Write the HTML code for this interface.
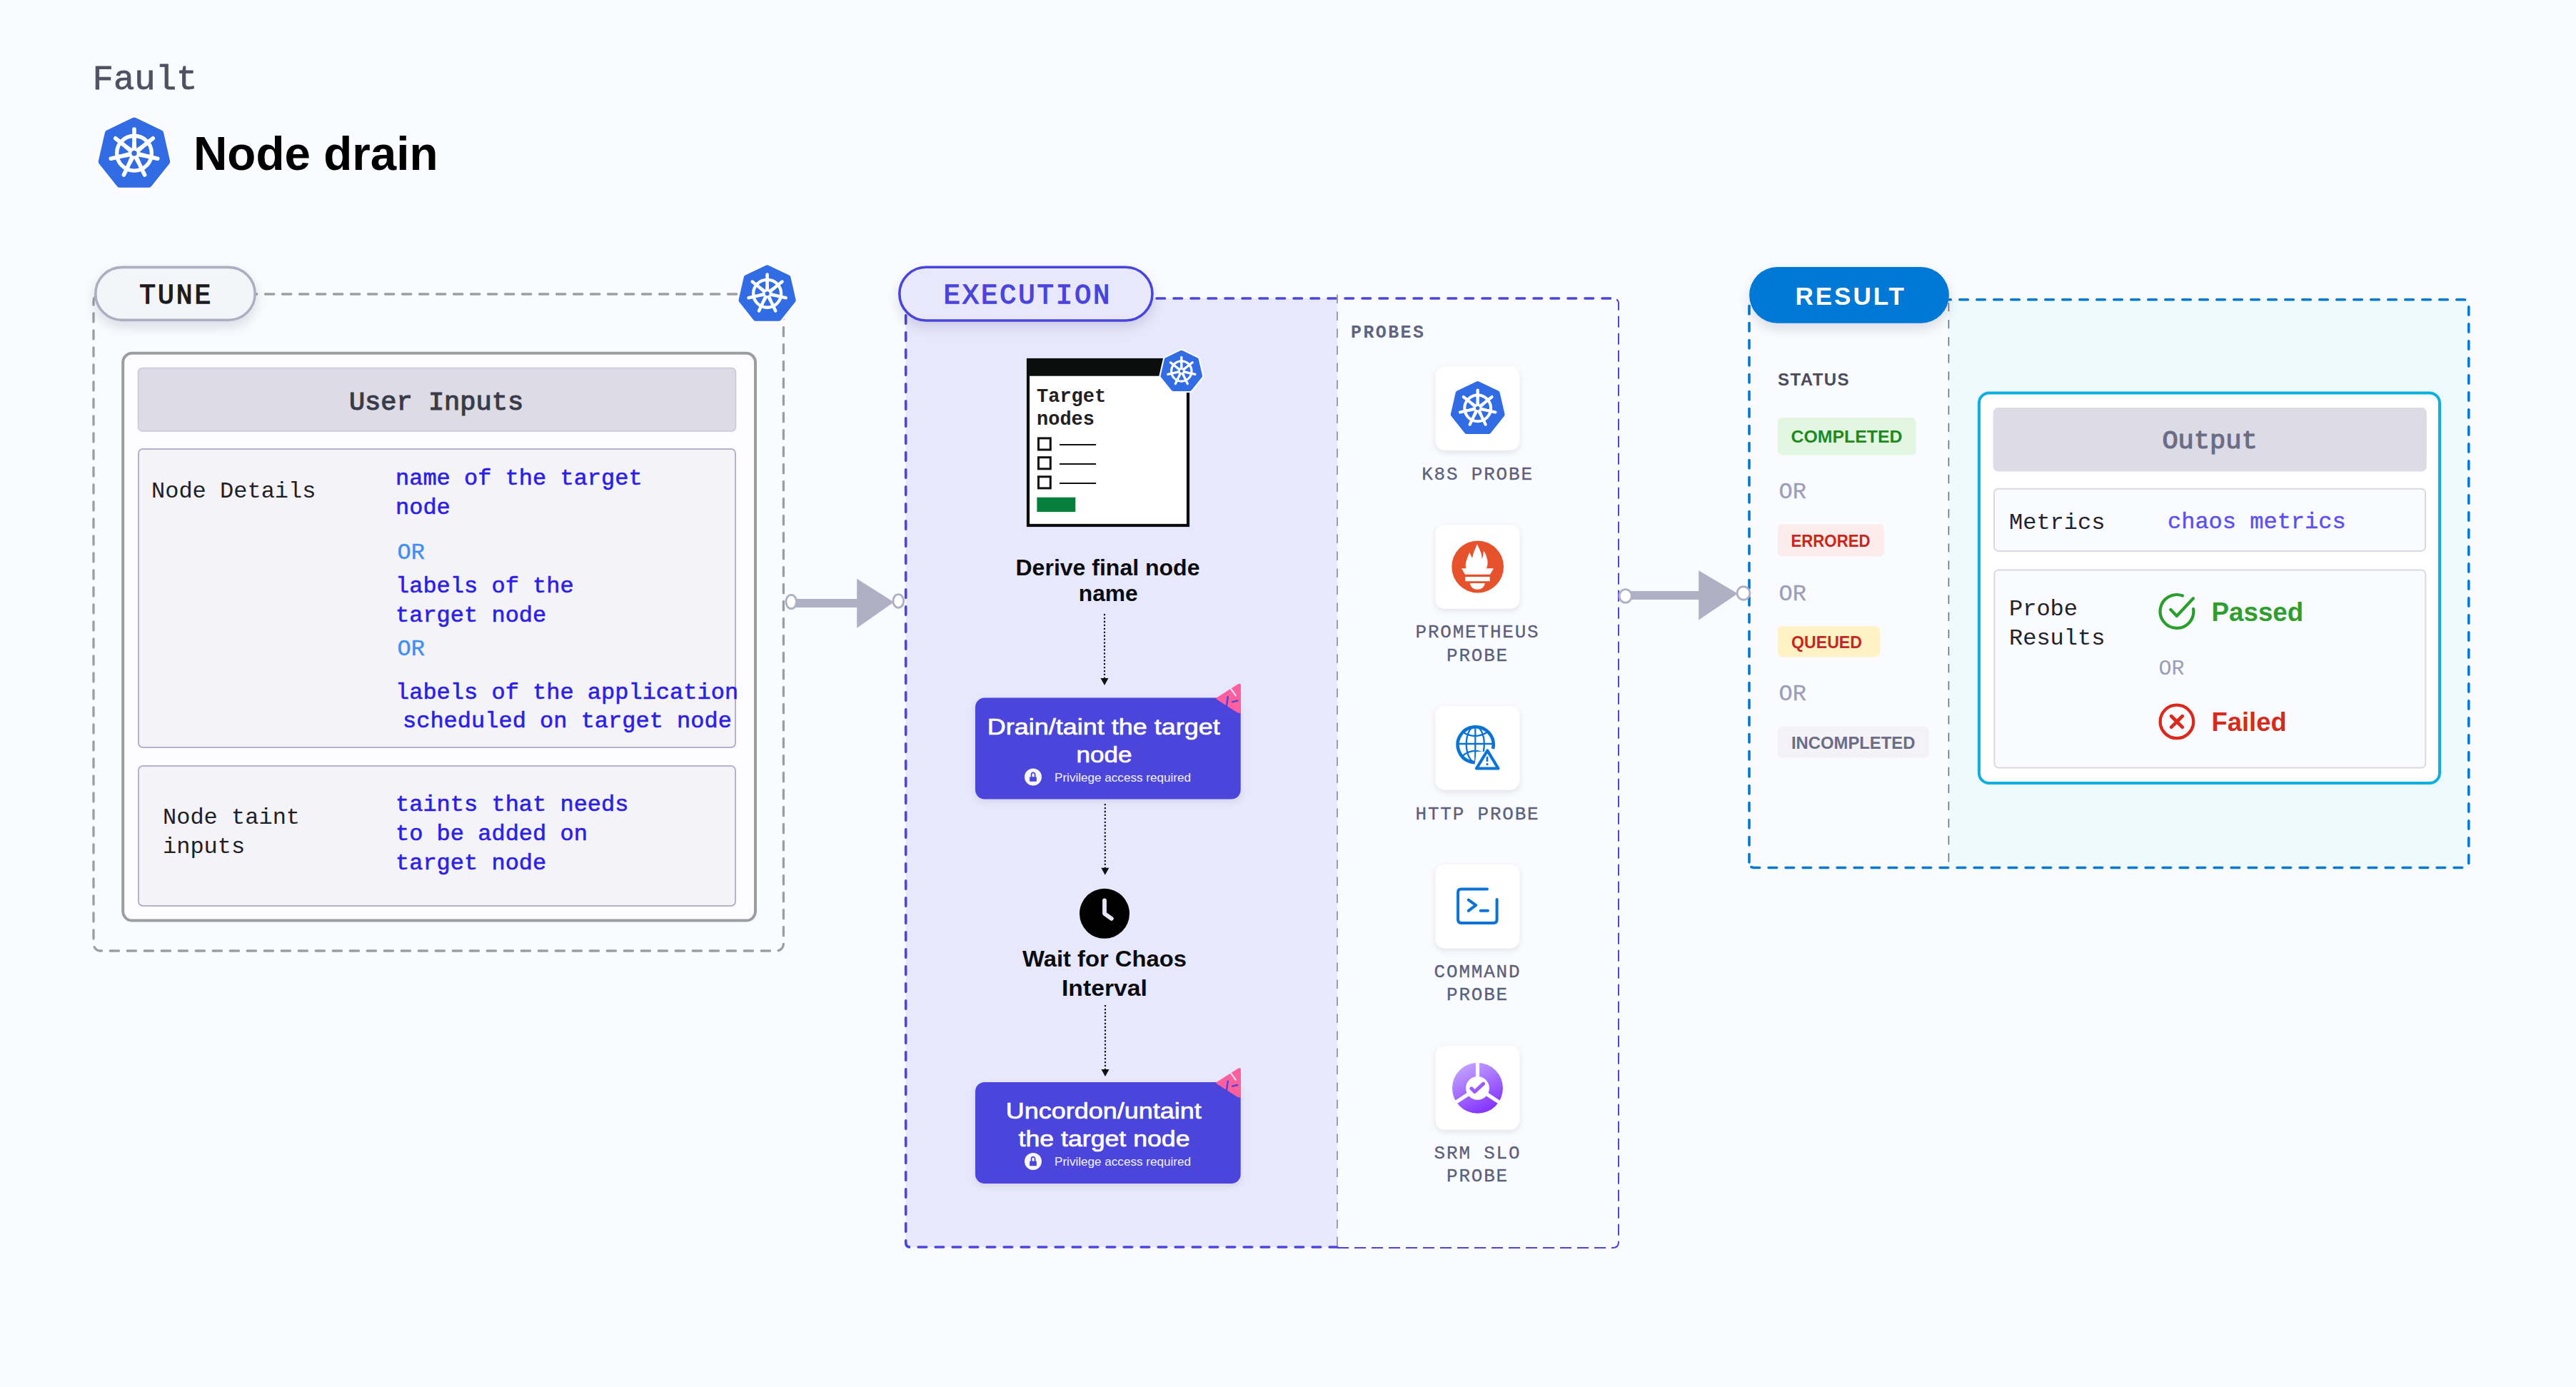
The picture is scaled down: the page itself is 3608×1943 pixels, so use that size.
<!DOCTYPE html>
<html><head><meta charset="utf-8"><title>Node drain</title>
<style>html,body{margin:0;padding:0;background:#fafbfe;overflow:hidden;} svg{display:block;}</style>
</head><body>
<svg width="3608" height="1943" viewBox="0 0 3608 1943">
<defs>
 <filter id="sh" x="-30%" y="-30%" width="160%" height="180%"><feDropShadow dx="0" dy="8" stdDeviation="8" flood-color="#202030" flood-opacity="0.12"/></filter>
 <filter id="sh2" x="-30%" y="-30%" width="160%" height="180%"><feDropShadow dx="0" dy="3" stdDeviation="4" flood-color="#1a1a40" flood-opacity="0.10"/></filter>
 <linearGradient id="srmg" x1="0.25" y1="0" x2="0.75" y2="1"><stop offset="0" stop-color="#c3a6ff"/><stop offset="1" stop-color="#7f2cff"/></linearGradient>
 <g id="k8s">
  <path d="M0.00 -46.40 L36.28 -28.93 L45.24 10.32 L20.13 41.80 L-20.13 41.80 L-45.24 10.32 L-36.28 -28.93 Z" fill="#ffffff" stroke="#ffffff" stroke-width="17" stroke-linejoin="round"/>
  <path d="M0.00 -46.40 L36.28 -28.93 L45.24 10.32 L20.13 41.80 L-20.13 41.80 L-45.24 10.32 L-36.28 -28.93 Z" fill="#326ce5" stroke="#326ce5" stroke-width="10" stroke-linejoin="round"/>
  <g transform="translate(0 -1.3)">
   <circle cx="0" cy="0" r="24.4" fill="none" stroke="#fff" stroke-width="5.4"/>
   <g fill="#fff"><path transform="rotate(-90.000)" d="M0 -3.6 L21 -2.6 L21 2.6 L0 3.6 Z"/><line transform="rotate(-90.000)" x1="20" y1="0" x2="33.6" y2="0" stroke="#fff" stroke-width="5.6" stroke-linecap="round"/><path transform="rotate(-38.571)" d="M0 -3.6 L21 -2.6 L21 2.6 L0 3.6 Z"/><line transform="rotate(-38.571)" x1="20" y1="0" x2="33.6" y2="0" stroke="#fff" stroke-width="5.6" stroke-linecap="round"/><path transform="rotate(12.857)" d="M0 -3.6 L21 -2.6 L21 2.6 L0 3.6 Z"/><line transform="rotate(12.857)" x1="20" y1="0" x2="33.6" y2="0" stroke="#fff" stroke-width="5.6" stroke-linecap="round"/><path transform="rotate(64.286)" d="M0 -3.6 L21 -2.6 L21 2.6 L0 3.6 Z"/><line transform="rotate(64.286)" x1="20" y1="0" x2="33.6" y2="0" stroke="#fff" stroke-width="5.6" stroke-linecap="round"/><path transform="rotate(115.714)" d="M0 -3.6 L21 -2.6 L21 2.6 L0 3.6 Z"/><line transform="rotate(115.714)" x1="20" y1="0" x2="33.6" y2="0" stroke="#fff" stroke-width="5.6" stroke-linecap="round"/><path transform="rotate(167.143)" d="M0 -3.6 L21 -2.6 L21 2.6 L0 3.6 Z"/><line transform="rotate(167.143)" x1="20" y1="0" x2="33.6" y2="0" stroke="#fff" stroke-width="5.6" stroke-linecap="round"/><path transform="rotate(218.571)" d="M0 -3.6 L21 -2.6 L21 2.6 L0 3.6 Z"/><line transform="rotate(218.571)" x1="20" y1="0" x2="33.6" y2="0" stroke="#fff" stroke-width="5.6" stroke-linecap="round"/></g>
   <circle cx="0" cy="0" r="3.7" fill="#326ce5"/>
  </g>
 </g>
</defs>
<rect x="0" y="0" width="3608" height="1943" fill="#fafbfe"/>
<text x="129.5" y="125" font-family="'Liberation Mono', monospace" font-size="49" font-weight="400" fill="#4f5162" stroke="#4f5162" stroke-width="0.8">Fault</text>
<use href="#k8s" transform="translate(188 216) scale(1.0000)"/>
<text x="271" y="238.2" font-family="'Liberation Sans', sans-serif" font-size="67" font-weight="700" fill="#000000" textLength="342.5" lengthAdjust="spacingAndGlyphs">Node drain</text>
<rect x="131" y="412" width="966.4" height="920" rx="10" fill="none" stroke="#9a9ea3" stroke-width="3.3" stroke-dasharray="12.3 11.7" stroke-dashoffset="9.5" stroke-linecap="round"/>
<rect x="133.8" y="374.4" width="223.4" height="74" rx="37" fill="#f4f5f8" stroke="#aeaec2" stroke-width="3.6" filter="url(#sh)"/>
<text x="246.8" y="425.4" font-family="'Liberation Mono', monospace" font-size="38" font-weight="400" fill="#1a1c1f" text-anchor="middle" letter-spacing="3" stroke="#1a1c1f" stroke-width="1.3">TUNE</text>
<use href="#k8s" transform="translate(1074.6 412.3) scale(0.7981)"/>
<rect x="172.2" y="494.7" width="885.8" height="794.9" rx="13" fill="#fcfcfe" stroke="#9a9ea3" stroke-width="4"/>
<rect x="193.5" y="515.5" width="837" height="88.5" rx="6" fill="#dcdbe6" stroke="#c8c7d8" stroke-width="1.5"/>
<text x="611" y="574" font-family="'Liberation Mono', monospace" font-size="37" font-weight="400" fill="#3a3b48" text-anchor="middle" stroke="#3a3b48" stroke-width="1.2">User Inputs</text>
<rect x="194" y="629" width="836" height="418" rx="6" fill="#f3f3f8" stroke="#b4b3c9" stroke-width="2"/>
<rect x="194" y="1073" width="836" height="196" rx="6" fill="#f3f3f8" stroke="#b4b3c9" stroke-width="2"/>
<text x="212" y="696.5" font-family="'Liberation Mono', monospace" font-size="32" font-weight="400" fill="#1f2026">Node Details</text>
<text x="554" y="679.3" font-family="'Liberation Mono', monospace" font-size="32" font-weight="400" fill="#2c1ee8" stroke="#2c1ee8" stroke-width="0.6">name of the target</text>
<text x="554" y="720" font-family="'Liberation Mono', monospace" font-size="32" font-weight="400" fill="#2c1ee8" stroke="#2c1ee8" stroke-width="0.6">node</text>
<text x="556.5" y="783.4" font-family="'Liberation Mono', monospace" font-size="32" font-weight="400" fill="#3f8ef0" stroke="#3f8ef0" stroke-width="0.4">OR</text>
<text x="554" y="830.3" font-family="'Liberation Mono', monospace" font-size="32" font-weight="400" fill="#2c1ee8" stroke="#2c1ee8" stroke-width="0.6">labels of the</text>
<text x="554" y="871" font-family="'Liberation Mono', monospace" font-size="32" font-weight="400" fill="#2c1ee8" stroke="#2c1ee8" stroke-width="0.6">target node</text>
<text x="556.5" y="918" font-family="'Liberation Mono', monospace" font-size="32" font-weight="400" fill="#3f8ef0" stroke="#3f8ef0" stroke-width="0.4">OR</text>
<text x="554" y="978.5" font-family="'Liberation Mono', monospace" font-size="32" font-weight="400" fill="#2c1ee8" stroke="#2c1ee8" stroke-width="0.6">labels of the application</text>
<text x="564" y="1019.3" font-family="'Liberation Mono', monospace" font-size="32" font-weight="400" fill="#2c1ee8" stroke="#2c1ee8" stroke-width="0.6">scheduled on target node</text>
<text x="228" y="1153.8" font-family="'Liberation Mono', monospace" font-size="32" font-weight="400" fill="#1f2026">Node taint</text>
<text x="228" y="1194.6" font-family="'Liberation Mono', monospace" font-size="32" font-weight="400" fill="#1f2026">inputs</text>
<text x="554" y="1136.3" font-family="'Liberation Mono', monospace" font-size="32" font-weight="400" fill="#2c1ee8" stroke="#2c1ee8" stroke-width="0.6">taints that needs</text>
<text x="554" y="1177" font-family="'Liberation Mono', monospace" font-size="32" font-weight="400" fill="#2c1ee8" stroke="#2c1ee8" stroke-width="0.6">to be added on</text>
<text x="554" y="1217.8" font-family="'Liberation Mono', monospace" font-size="32" font-weight="400" fill="#2c1ee8" stroke="#2c1ee8" stroke-width="0.6">target node</text>
<path d="M1873 418 L1275 418 Q1268.7 418 1268.7 424.3 L1268.7 1740.7 Q1268.7 1747 1275 1747 L1873 1747 Z" fill="#e8e8fd"/>
<path d="M1873 1748 L2259 1748 Q2267 1748 2267 1740 L2267 426 Q2267 418 2259 418" fill="none" stroke="#4b45dd" stroke-width="2" stroke-dasharray="16 8"/>
<path d="M2259 418 L1275 418 Q1268.7 418 1268.7 424.3 L1268.7 1740.7 Q1268.7 1747 1275 1747 L1873 1747" fill="none" stroke="#4b45dd" stroke-width="3.6" stroke-dasharray="11.5 12.5" stroke-dashoffset="-3.5" stroke-linecap="round"/>
<line x1="1873" y1="412.5" x2="1873" y2="1745" stroke="#9494a8" stroke-width="1.8" stroke-dasharray="12.6 11.4"/>
<rect x="1259.8" y="374.2" width="354.2" height="74.8" rx="37.4" fill="#e8e8fa" stroke="#4a44dc" stroke-width="3.6" filter="url(#sh)"/>
<text x="1439.4" y="425.4" font-family="'Liberation Mono', monospace" font-size="39" font-weight="400" fill="#4a44dc" text-anchor="middle" letter-spacing="2.8" stroke="#4a44dc" stroke-width="1.3">EXECUTION</text>
<rect x="1440" y="504" width="224" height="232" fill="#ffffff" stroke="#0c0e0d" stroke-width="4.2"/>
<rect x="1438" y="502" width="228" height="24.7" fill="#0c0e0d"/>
<text x="1452" y="563.3" font-family="'Liberation Mono', monospace" font-size="27" font-weight="700" fill="#231f20">Target</text>
<text x="1452" y="594.9" font-family="'Liberation Mono', monospace" font-size="27" font-weight="700" fill="#231f20">nodes</text>
<rect x="1454.5" y="613.9" width="16.8" height="16.1" fill="none" stroke="#111" stroke-width="3"/>
<line x1="1484.1" y1="623.1" x2="1535.1" y2="623.1" stroke="#111" stroke-width="2"/>
<rect x="1454.5" y="640.7" width="16.8" height="16.1" fill="none" stroke="#111" stroke-width="3"/>
<line x1="1484.1" y1="649.9" x2="1535.1" y2="649.9" stroke="#111" stroke-width="2"/>
<rect x="1454.5" y="667.8" width="16.8" height="16.1" fill="none" stroke="#111" stroke-width="3"/>
<line x1="1484.1" y1="677" x2="1535.1" y2="677" stroke="#111" stroke-width="2"/>
<rect x="1452.4" y="696.7" width="53.9" height="20.4" fill="#067f3d"/>
<use href="#k8s" transform="translate(1654.8 520.7) scale(0.5825)"/>
<text x="1551.5" y="806" font-family="'Liberation Sans', sans-serif" font-size="31" font-weight="700" fill="#0b0b0f" text-anchor="middle" textLength="258" lengthAdjust="spacingAndGlyphs">Derive final node</text>
<text x="1552.3" y="842" font-family="'Liberation Sans', sans-serif" font-size="31" font-weight="700" fill="#0b0b0f" text-anchor="middle" textLength="83" lengthAdjust="spacingAndGlyphs">name</text>
<line x1="1547" y1="860" x2="1547" y2="951" stroke="#111" stroke-width="2.1" stroke-dasharray="2.3 2.63"/>
<path d="M1541.5 950 L1552.5 950 L1547 960 Z" fill="#111"/>
<line x1="1547.8" y1="1126" x2="1547.8" y2="1216.8" stroke="#111" stroke-width="2.1" stroke-dasharray="2.3 2.63"/>
<path d="M1542.3 1215.8 L1553.3 1215.8 L1547.8 1225.8 Z" fill="#111"/>
<line x1="1548" y1="1408" x2="1548" y2="1499" stroke="#111" stroke-width="2.1" stroke-dasharray="2.3 2.63"/>
<path d="M1542.5 1498 L1553.5 1498 L1548 1508 Z" fill="#111"/>
<rect x="1366" y="977.6" width="371.7" height="142" rx="13" fill="#4b45dc" filter="url(#sh2)"/>
<text x="1545.8" y="1029.0" font-family="'Liberation Sans', sans-serif" font-size="32" font-weight="400" fill="#ffffff" text-anchor="middle" textLength="326" lengthAdjust="spacingAndGlyphs" stroke="#fff" stroke-width="0.7">Drain/taint the target</text>
<text x="1546.5" y="1068.0" font-family="'Liberation Sans', sans-serif" font-size="32" font-weight="400" fill="#ffffff" text-anchor="middle" textLength="78" lengthAdjust="spacingAndGlyphs" stroke="#fff" stroke-width="0.7">node</text>
<circle cx="1447" cy="1088.6" r="12" fill="#f7f7fc"/>
<rect x="1442.1" y="1088.2" width="9.8" height="6.6" rx="0.8" fill="#4b45dc"/>
<path d="M1444.6 1088.6 L1444.6 1085.1 A2.5 2.8 0 0 1 1449.6 1085.1 L1449.6 1088.6" fill="none" stroke="#4b45dc" stroke-width="1.8"/>
<text x="1477" y="1094.6" font-family="'Liberation Sans', sans-serif" font-size="17" font-weight="400" fill="#f2f2ff" textLength="191" lengthAdjust="spacingAndGlyphs">Privilege access required</text>
<g transform="translate(0 0.0)"><clipPath id="cp977"><rect x="1690" y="940" width="47.8" height="80"/></clipPath><path clip-path="url(#cp977)" d="M1705 978.5 L1734 960 Q1738 958 1738 962 L1738 995 Q1738 999 1734 997 Z" fill="#ff5f9e" stroke="#ff5f9e" stroke-width="3" stroke-linejoin="round"/><line x1="1724" y1="965" x2="1730.7" y2="974.2" stroke="#dfe3f6" stroke-width="2.2" stroke-linecap="round"/><line x1="1719.8" y1="976" x2="1718" y2="989" stroke="#4b45dc" stroke-width="2.4" stroke-linecap="round"/><line x1="1726" y1="983.3" x2="1733.3" y2="981.6" stroke="#4b45dc" stroke-width="2.4" stroke-linecap="round"/></g>
<rect x="1366" y="1516" width="371.7" height="142" rx="13" fill="#4b45dc" filter="url(#sh2)"/>
<text x="1545.8" y="1567.4" font-family="'Liberation Sans', sans-serif" font-size="32" font-weight="400" fill="#ffffff" text-anchor="middle" textLength="274" lengthAdjust="spacingAndGlyphs" stroke="#fff" stroke-width="0.7">Uncordon/untaint</text>
<text x="1546.5" y="1606.4" font-family="'Liberation Sans', sans-serif" font-size="32" font-weight="400" fill="#ffffff" text-anchor="middle" textLength="240" lengthAdjust="spacingAndGlyphs" stroke="#fff" stroke-width="0.7">the target node</text>
<circle cx="1447" cy="1627" r="12" fill="#f7f7fc"/>
<rect x="1442.1" y="1626.6" width="9.8" height="6.6" rx="0.8" fill="#4b45dc"/>
<path d="M1444.6 1627 L1444.6 1623.5 A2.5 2.8 0 0 1 1449.6 1623.5 L1449.6 1627" fill="none" stroke="#4b45dc" stroke-width="1.8"/>
<text x="1477" y="1633" font-family="'Liberation Sans', sans-serif" font-size="17" font-weight="400" fill="#f2f2ff" textLength="191" lengthAdjust="spacingAndGlyphs">Privilege access required</text>
<g transform="translate(0 538.4)"><clipPath id="cp1516"><rect x="1690" y="940" width="47.8" height="80"/></clipPath><path clip-path="url(#cp1516)" d="M1705 978.5 L1734 960 Q1738 958 1738 962 L1738 995 Q1738 999 1734 997 Z" fill="#ff5f9e" stroke="#ff5f9e" stroke-width="3" stroke-linejoin="round"/><line x1="1724" y1="965" x2="1730.7" y2="974.2" stroke="#dfe3f6" stroke-width="2.2" stroke-linecap="round"/><line x1="1719.8" y1="976" x2="1718" y2="989" stroke="#4b45dc" stroke-width="2.4" stroke-linecap="round"/><line x1="1726" y1="983.3" x2="1733.3" y2="981.6" stroke="#4b45dc" stroke-width="2.4" stroke-linecap="round"/></g>
<circle cx="1547" cy="1279.8" r="35" fill="#000"/>
<path d="M1547 1261.3 L1547 1279.8 L1556.8 1286.9" fill="none" stroke="#e8e8fb" stroke-width="5.8" stroke-linecap="round" stroke-linejoin="round"/>
<text x="1547" y="1354.2" font-family="'Liberation Sans', sans-serif" font-size="31" font-weight="700" fill="#0b0b0f" text-anchor="middle" textLength="230" lengthAdjust="spacingAndGlyphs">Wait for Chaos</text>
<text x="1547" y="1395" font-family="'Liberation Sans', sans-serif" font-size="31" font-weight="700" fill="#0b0b0f" text-anchor="middle" textLength="120" lengthAdjust="spacingAndGlyphs">Interval</text>
<text x="1892" y="472.7" font-family="'Liberation Mono', monospace" font-size="25" font-weight="700" fill="#5f6480" letter-spacing="2.4">PROBES</text>
<rect x="2010.6" y="513.4" width="117.6" height="117.4" rx="13" fill="#ffffff" filter="url(#sh2)"/>
<rect x="2010.6" y="735.3" width="117.6" height="117.4" rx="13" fill="#ffffff" filter="url(#sh2)"/>
<rect x="2010.6" y="989" width="117.6" height="117.4" rx="13" fill="#ffffff" filter="url(#sh2)"/>
<rect x="2010.6" y="1211" width="117.6" height="117.4" rx="13" fill="#ffffff" filter="url(#sh2)"/>
<rect x="2010.6" y="1465.2" width="117.6" height="117.4" rx="13" fill="#ffffff" filter="url(#sh2)"/>
<use href="#k8s" transform="translate(2069.7 572.8) scale(0.7534)"/>
<text x="2069.5" y="672.6" font-family="'Liberation Mono', monospace" font-size="26" font-weight="400" fill="#5c5f7a" text-anchor="middle" letter-spacing="1.8" stroke="#5c5f7a" stroke-width="0.3" dy="-0.8">K8S PROBE</text>
<text x="2069.5" y="894" font-family="'Liberation Mono', monospace" font-size="26" font-weight="400" fill="#5c5f7a" text-anchor="middle" letter-spacing="1.8" stroke="#5c5f7a" stroke-width="0.3" dy="-0.8">PROMETHEUS</text>
<text x="2069.5" y="926.5" font-family="'Liberation Mono', monospace" font-size="26" font-weight="400" fill="#5c5f7a" text-anchor="middle" letter-spacing="1.8" stroke="#5c5f7a" stroke-width="0.3" dy="-0.8">PROBE</text>
<text x="2069.5" y="1149" font-family="'Liberation Mono', monospace" font-size="26" font-weight="400" fill="#5c5f7a" text-anchor="middle" letter-spacing="1.8" stroke="#5c5f7a" stroke-width="0.3" dy="-0.8">HTTP PROBE</text>
<text x="2069.5" y="1370" font-family="'Liberation Mono', monospace" font-size="26" font-weight="400" fill="#5c5f7a" text-anchor="middle" letter-spacing="1.8" stroke="#5c5f7a" stroke-width="0.3" dy="-0.8">COMMAND</text>
<text x="2069.5" y="1402" font-family="'Liberation Mono', monospace" font-size="26" font-weight="400" fill="#5c5f7a" text-anchor="middle" letter-spacing="1.8" stroke="#5c5f7a" stroke-width="0.3" dy="-0.8">PROBE</text>
<text x="2069.5" y="1623.8" font-family="'Liberation Mono', monospace" font-size="26" font-weight="400" fill="#5c5f7a" text-anchor="middle" letter-spacing="1.8" stroke="#5c5f7a" stroke-width="0.3" dy="-0.8">SRM SLO</text>
<text x="2069.5" y="1655.7" font-family="'Liberation Mono', monospace" font-size="26" font-weight="400" fill="#5c5f7a" text-anchor="middle" letter-spacing="1.8" stroke="#5c5f7a" stroke-width="0.3" dy="-0.8">PROBE</text>
<g><circle cx="2069.7" cy="794" r="36.4" fill="#e6522c"/><path d="M2069 762.3 C2072 770 2076 775 2075.5 783 C2078 779 2077 775 2078.3 772 C2082 778 2085 786 2083 793 C2082.5 796 2081 797.5 2080 798.4 L2054.8 798.4 C2052 795 2052.5 789 2054 785 C2055 781 2057 778 2058 774 C2060 777 2061 780 2062 782 C2063 776 2066 769 2069 762.3 Z" fill="#fff"/><path d="M2047 796.2 L2092 796.2 L2087 804.8 L2052 804.8 Z" fill="#fff"/><rect x="2052.4" y="808" width="34.3" height="6.2" fill="#fff"/><path d="M2058.9 817.1 L2079.8 817.1 A10.45 8.6 0 0 1 2058.9 817.1 Z" fill="#fff"/></g>
<g fill="none" stroke="#0a74d6"><path d="M2082 1063 A25 25 0 1 1 2091 1049" stroke-width="4.6"/><ellipse cx="2066.3" cy="1042.5" rx="12.5" ry="25" stroke-width="2.3"/><line x1="2066.3" y1="1017.5" x2="2066.3" y2="1067.5" stroke-width="2.3"/><line x1="2041.5" y1="1042" x2="2091" y2="1042" stroke-width="2.3"/><path d="M2048 1025 Q2066 1037 2084 1025" stroke-width="2.3"/><path d="M2048 1059 Q2062 1048 2075 1054" stroke-width="2.3"/></g>
<path d="M2068 1053 L2102 1053 L2102 1082 L2064 1082 Z" fill="#ffffff"/>
<path d="M2083.3 1051.5 L2098.5 1076.5 L2068 1076.5 Z" fill="none" stroke="#0a74d6" stroke-width="4.2" stroke-linejoin="round"/>
<line x1="2083" y1="1060" x2="2083" y2="1067" stroke="#0a74d6" stroke-width="2.6"/>
<circle cx="2083" cy="1070.7" r="1.6" fill="#0a74d6"/>
<g fill="none" stroke="#0a74d6" stroke-width="4" stroke-linecap="round" stroke-linejoin="round"><path d="M2083 1245.6 L2046.5 1245.6 Q2042.1 1245.6 2042.1 1250 L2042.1 1288.5 Q2042.1 1292.9 2046.5 1292.9 L2092.2 1292.9 Q2096.6 1292.9 2096.6 1288.5 L2096.6 1260"/><path d="M2056.8 1260.6 L2067.2 1268.1 L2056.8 1275.8"/><path d="M2073.8 1275.7 L2083.9 1275.7"/></g>
<g><circle cx="2069.5" cy="1524.3" r="35.5" fill="url(#srmg)"/><circle cx="2069.5" cy="1524.3" r="16.4" fill="#fff"/><g stroke="#fff" stroke-width="5.2"><line x1="2069.5" y1="1524.3" x2="2069.5" y2="1485"/><line x1="2069.5" y1="1524.3" x2="2036" y2="1546.1"/><line x1="2069.5" y1="1524.3" x2="2103" y2="1546.1"/></g><path d="M2060.9 1524.8 L2065.5 1529.4 L2077.6 1518.2" fill="none" stroke="#9a5cff" stroke-width="5" stroke-linecap="round" stroke-linejoin="round"/></g>
<rect x="2729.4" y="419.8" width="728.4" height="795.5" fill="#eefafe"/>
<path d="M2450 1208 L2450 427 Q2450 419.8 2457 419.8 L3450.8 419.8 Q3457.8 419.8 3457.8 427 L3457.8 1208.5 Q3457.8 1215.5 3450.8 1215.5 L2457 1215.5 Q2450 1215.5 2450 1208.5 Z" fill="none" stroke="#0278d5" stroke-width="3.6" stroke-dasharray="11.5 12.5" stroke-linecap="round"/>
<line x1="2729.4" y1="424" x2="2729.4" y2="1213" stroke="#6b6e85" stroke-width="1.6" stroke-dasharray="12.2 11.9"/>
<rect x="2450.1" y="374" width="279.8" height="78.7" rx="39.35" fill="#0278d5" filter="url(#sh)"/>
<text x="2592.2" y="427" font-family="'Liberation Sans', sans-serif" font-size="35" font-weight="700" fill="#ffffff" text-anchor="middle" letter-spacing="3">RESULT</text>
<text x="2490" y="540.3" font-family="'Liberation Sans', sans-serif" font-size="24" font-weight="700" fill="#4a4b5c" letter-spacing="1.4">STATUS</text>
<rect x="2490" y="585" width="193.4000000000001" height="52.5" rx="6" fill="#e3f6e1"/>
<text x="2508.5" y="620.4" font-family="'Liberation Sans', sans-serif" font-size="24.5" font-weight="700" fill="#1e8a1e" textLength="155.9000000000001" lengthAdjust="spacingAndGlyphs">COMPLETED</text>
<rect x="2490" y="734.6" width="148.5999999999999" height="44.799999999999955" rx="6" fill="#fdecec"/>
<text x="2508.5" y="766.3" font-family="'Liberation Sans', sans-serif" font-size="24.5" font-weight="700" fill="#c9261f" textLength="111.0" lengthAdjust="spacingAndGlyphs">ERRORED</text>
<rect x="2490" y="877.3" width="143" height="43.30000000000007" rx="6" fill="#fff3c6"/>
<text x="2509" y="907.6" font-family="'Liberation Sans', sans-serif" font-size="24.5" font-weight="700" fill="#c9261f" textLength="99" lengthAdjust="spacingAndGlyphs">QUEUED</text>
<rect x="2490" y="1018" width="211.80000000000018" height="43.5" rx="6" fill="#f2f2f7"/>
<text x="2509" y="1048.8" font-family="'Liberation Sans', sans-serif" font-size="24.5" font-weight="700" fill="#6b6d85" textLength="173.4000000000001" lengthAdjust="spacingAndGlyphs">INCOMPLETED</text>
<text x="2491.5" y="698" font-family="'Liberation Mono', monospace" font-size="32" font-weight="400" fill="#9d9db7" stroke="#9d9db7" stroke-width="0.3">OR</text>
<text x="2491.5" y="840.5" font-family="'Liberation Mono', monospace" font-size="32" font-weight="400" fill="#9d9db7" stroke="#9d9db7" stroke-width="0.3">OR</text>
<text x="2491.5" y="980.8" font-family="'Liberation Mono', monospace" font-size="32" font-weight="400" fill="#9d9db7" stroke="#9d9db7" stroke-width="0.3">OR</text>
<rect x="2771.9" y="550.6" width="645.1" height="546.4" rx="14" fill="#ffffff" stroke="#0daee0" stroke-width="4"/>
<rect x="2791.6" y="571" width="607.2" height="89.4" rx="7" fill="#dcdbe6"/>
<text x="3095" y="628.4" font-family="'Liberation Mono', monospace" font-size="37" font-weight="400" fill="#6b6d85" text-anchor="middle" stroke="#6b6d85" stroke-width="1.2">Output</text>
<rect x="2793" y="684.7" width="604" height="87.2" rx="6" fill="#fafbfe" stroke="#d9d8e3" stroke-width="2"/>
<rect x="2793.4" y="798.4" width="603.9" height="277.2" rx="6" fill="#fafbfe" stroke="#d9d8e3" stroke-width="2"/>
<text x="2814" y="740.9" font-family="'Liberation Mono', monospace" font-size="32" font-weight="400" fill="#22222a">Metrics</text>
<text x="3036" y="740.2" font-family="'Liberation Mono', monospace" font-size="32" font-weight="400" fill="#5b4fef" stroke="#5b4fef" stroke-width="0.4">chaos metrics</text>
<text x="2814" y="862" font-family="'Liberation Mono', monospace" font-size="32" font-weight="400" fill="#22222a">Probe</text>
<text x="2814" y="902.6" font-family="'Liberation Mono', monospace" font-size="32" font-weight="400" fill="#22222a">Results</text>
<text x="3023.4" y="945.1" font-family="'Liberation Mono', monospace" font-size="30" font-weight="400" fill="#9d9db7">OR</text>
<path d="M3056.9 834.5 A23.4 23.4 0 1 0 3072.1 853.2" fill="none" stroke="#2a9e2a" stroke-width="4.2" stroke-linecap="round"/>
<path d="M3040.2 854.1 L3048.9 862.9 L3071.9 838.3" fill="none" stroke="#2a9e2a" stroke-width="4.2" stroke-linecap="round" stroke-linejoin="round"/>
<text x="3097.6" y="870" font-family="'Liberation Sans', sans-serif" font-size="36" font-weight="700" fill="#2e9e2e" textLength="128.6" lengthAdjust="spacingAndGlyphs">Passed</text>
<circle cx="3048.9" cy="1010.9" r="23.3" fill="none" stroke="#da291d" stroke-width="4.3"/>
<path d="M3041.2 1003.2 L3056.6 1018.6 M3056.6 1003.2 L3041.2 1018.6" fill="none" stroke="#da291d" stroke-width="4.8" stroke-linecap="round"/>
<text x="3097.6" y="1024" font-family="'Liberation Sans', sans-serif" font-size="36" font-weight="700" fill="#d52b1e" textLength="105" lengthAdjust="spacingAndGlyphs">Failed</text>
<rect x="1108.2" y="839" width="94.0" height="12" fill="#b0b0c5"/>
<path d="M1200.2 810.7 L1252 843.5 L1200.2 879.7 Z" fill="#b0b0c5"/>
<ellipse cx="1108.2" cy="843" rx="7.3" ry="9.6" fill="#ffffff" stroke="#b0b0c5" stroke-width="2.9"/>
<ellipse cx="1258.3" cy="841.9" rx="7.4" ry="9.3" fill="#ffffff" stroke="#b0b0c5" stroke-width="2.9"/>
<rect x="2276.7" y="828" width="104.5" height="12" fill="#b0b0c5"/>
<path d="M2379.2 799.3 L2434 831.5 L2379.2 868.4 Z" fill="#b0b0c5"/>
<ellipse cx="2276.7" cy="834.9" rx="8.6" ry="9.3" fill="#ffffff" stroke="#b0b0c5" stroke-width="2.9"/>
<ellipse cx="2442" cy="831" rx="9" ry="9.2" fill="#ffffff" stroke="#b0b0c5" stroke-width="2.9"/></svg>
</body></html>
